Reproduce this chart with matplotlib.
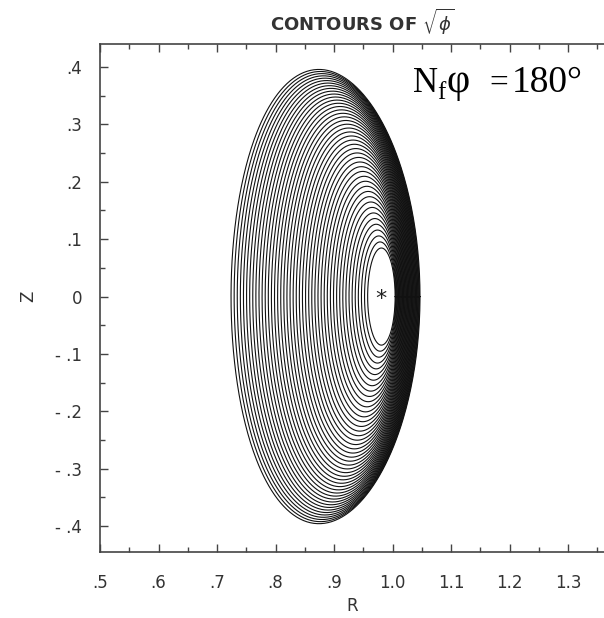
import numpy as np
import matplotlib.pyplot as plt
from matplotlib.ticker import MultipleLocator

# flux surface family (contours of sqrt(phi))
n_surf = 45
r_axis = 0.981          # magnetic axis
z_axis = 0.0
a_in, a_out = 0.0235, 0.1615      # half widths, innermost / boundary
c_in, c_out = 0.981, 0.8855       # surface centres
kappa_in, kappa_out = 3.6, 2.45   # elongation
delta_out = 0.07                  # triangularity of boundary
shift_pow = 1.0

x_ticks = [0.5, 0.6, 0.7, 0.8, 0.9, 1.0, 1.1, 1.2, 1.3]
x_labels = ['.5', '.6', '.7', '.8', '.9', '1.0', '1.1', '1.2', '1.3']
y_ticks = [-0.4, -0.3, -0.2, -0.1, 0.0, 0.1, 0.2, 0.3, 0.4]
y_labels = ['- .4', '- .3', '- .2', '- .1', '0', '.1', '.2', '.3', '.4']

fig = plt.figure(figsize=(6.04, 6.18), dpi=100)
ax = fig.add_axes([100 / 604, 66 / 618, 526.5 / 604, 508 / 618])

th = np.linspace(0, 2 * np.pi, 500)
for s in np.linspace(0, 1, n_surf):
    a = a_in + (a_out - a_in) * s
    c = c_in + (c_out - c_in) * s ** shift_pow
    k = kappa_in + (kappa_out - kappa_in) * s
    d = delta_out * s
    R = c + a * np.cos(th + d * np.sin(th))
    Z = z_axis + k * a * np.sin(th)
    ax.plot(R, Z, color='#111111', lw=0.8)

ax.text(r_axis, z_axis - 0.004, '*', fontsize=16, ha='center', va='center', color='#222')

ax.set_xlim(0.5, 1.4)
ax.set_ylim(-0.445, 0.44)
ax.set_xticks(x_ticks)
ax.set_xticklabels(x_labels)
ax.set_yticks(y_ticks)
ax.set_yticklabels(y_labels)
ax.xaxis.set_minor_locator(MultipleLocator(0.05))
ax.yaxis.set_minor_locator(MultipleLocator(0.05))
ax.tick_params(which='both', direction='in', top=True, right=True, color='#444')
ax.tick_params(which='major', length=6, width=1)
ax.tick_params(which='minor', length=3.5, width=1)
ax.tick_params(axis='x', pad=16, labelsize=12, labelcolor='#333')
ax.tick_params(axis='y', pad=13, labelsize=12, labelcolor='#333')
for sp in ax.spines.values():
    sp.set_color('#444')
    sp.set_linewidth(1.2)

fig.text(362 / 604, 1 - 22 / 618, 'CONTOURS OF $\\sqrt{\\phi}$', ha='center', va='center',
         fontsize=13, fontweight='bold', color='#333')
fig.text(352 / 604, 1 - 606 / 618, 'R', ha='center', va='center', fontsize=12, color='#333')
fig.text(28 / 604, 1 - 296 / 618, 'Z', ha='center', va='center', fontsize=12,
         rotation=90, color='#333')

# N_f phi = 180 deg label
serif = 'Liberation Serif'
fig.text(413 / 604, 1 - 92 / 618, 'N', fontsize=25, family=serif, va='baseline')
fig.text(437 / 604, 1 - 99 / 618, 'f', fontsize=18, family=serif, va='baseline')
fig.text(446 / 604, 1 - 92 / 618, '\u03c6', fontsize=29, family=serif, va='baseline')
fig.text(489 / 604, 1 - 92 / 618, '=', fontsize=24, family=serif, va='baseline')
fig.text(512 / 604, 1 - 92 / 618, '180\u00b0', fontsize=27, family=serif, va='baseline')

fig.savefig('out.png', dpi=100)
